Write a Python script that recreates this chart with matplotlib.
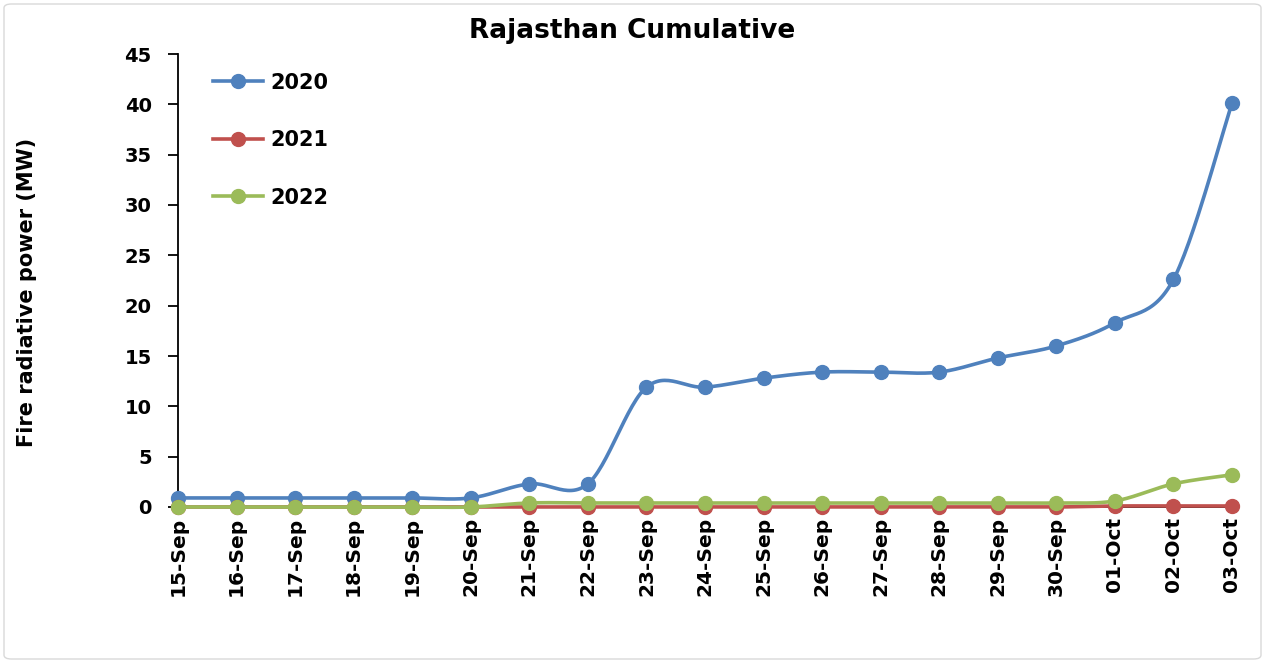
import numpy as np
import matplotlib.pyplot as plt
from matplotlib.patches import FancyBboxPatch

plt.rcParams['font.family'] = ['DejaVu Sans']
plt.rcParams['font.weight'] = 'bold'

dates = ['15-Sep', '16-Sep', '17-Sep', '18-Sep', '19-Sep', '20-Sep', '21-Sep', '22-Sep', '23-Sep',
         '24-Sep', '25-Sep', '26-Sep', '27-Sep', '28-Sep', '29-Sep', '30-Sep', '01-Oct', '02-Oct', '03-Oct']
frp_2020 = [0.9, 0.9, 0.9, 0.9, 0.9, 0.9, 2.3, 2.3, 11.9, 11.9, 12.8, 13.4, 13.4, 13.4, 14.8, 16.0, 18.3, 22.6, 40.1]
frp_2021 = [0, 0, 0, 0, 0, 0, 0, 0, 0, 0, 0, 0, 0, 0, 0, 0, 0.1, 0.1, 0.1]
frp_2022 = [0, 0, 0, 0, 0, 0, 0.4, 0.4, 0.4, 0.4, 0.4, 0.4, 0.4, 0.4, 0.4, 0.4, 0.6, 2.3, 3.2]

series = [('2020', frp_2020, '#4F81BD'), ('2021', frp_2021, '#C0504D'), ('2022', frp_2022, '#9BBB59')]

W, H = 1265, 663


def smooth(x, y, n=30):
    # Excel style smoothing: Catmull-Rom segments between the points
    x = np.asarray(x, float)
    y = np.asarray(y, float)
    px = np.concatenate([[x[0]], x, [x[-1]]])
    py = np.concatenate([[y[0]], y, [y[-1]]])
    xs, ys = [], []
    t = np.linspace(0, 1, n)
    for i in range(1, len(px) - 2):
        p0, p1, p2, p3 = [np.array([px[j], py[j]]) for j in range(i - 1, i + 3)]
        c1 = p1 + (p2 - p0) / 6
        c2 = p2 - (p3 - p1) / 6
        b = ((1 - t) ** 3)[:, None] * p1 + (3 * (1 - t) ** 2 * t)[:, None] * c1 \
            + (3 * (1 - t) * t ** 2)[:, None] * c2 + (t ** 3)[:, None] * p2
        xs.extend(b[:, 0])
        ys.extend(b[:, 1])
    return np.array(xs), np.array(ys)


fig = plt.figure(figsize=(W / 100, H / 100), dpi=100)
ax = fig.add_axes([178 / W, 1 - 507 / H, (1232 - 178) / W, (507 - 54) / H])

fig.patches.append(FancyBboxPatch((4 / W, 4 / H), 1257 / W, 655 / H,
                                  boxstyle='round,pad=0,rounding_size=0.006',
                                  transform=fig.transFigure, fill=False, edgecolor='#D9D9D9', linewidth=1))

x = np.arange(len(dates))
for name, vals, col in series:
    sx, sy = smooth(x, vals)
    ax.plot(sx, sy, color=col, linewidth=2.6, clip_on=False, solid_capstyle='round', zorder=3)
    ax.plot(x, vals, 'o', color=col, markersize=10, clip_on=False, zorder=3)
    ax.plot([], [], '-o', color=col, linewidth=2.6, markersize=10, label=name)

ax.set_xlim(0, 18)
ax.set_ylim(0, 45)
ax.set_yticks(np.arange(0, 46, 5))
ax.set_xticks(x)
ax.set_xticklabels(dates, rotation=90, fontsize=14.5, fontweight='bold')
ax.tick_params(axis='y', labelsize=14, length=7, width=1.3, direction='out', pad=12)
ax.tick_params(axis='x', length=3, width=1.3, direction='out', pad=4)
for lab in ax.get_yticklabels():
    lab.set_fontweight('bold')
for s in ['top', 'right']:
    ax.spines[s].set_visible(False)
for s in ['left', 'bottom']:
    ax.spines[s].set_linewidth(1.3)

ax.set_ylabel('Fire radiative power (MW)', fontsize=15, fontweight='bold')
ax.yaxis.set_label_coords(37 / W, 1 - 292 / H, transform=fig.transFigure)
fig.text(0.5, 1 - 31 / H, 'Rajasthan Cumulative', ha='center', va='center',
         fontsize=19, fontweight='bold')

ax.legend(loc='upper left', bbox_to_anchor=(196 / W, 1 - 56 / H), bbox_transform=fig.transFigure,
          frameon=False, labelspacing=1.8, handlelength=2.4, handletextpad=0.35,
          borderpad=0.3, prop={'weight': 'bold', 'size': 15})

fig.savefig('out.png', dpi=100)
